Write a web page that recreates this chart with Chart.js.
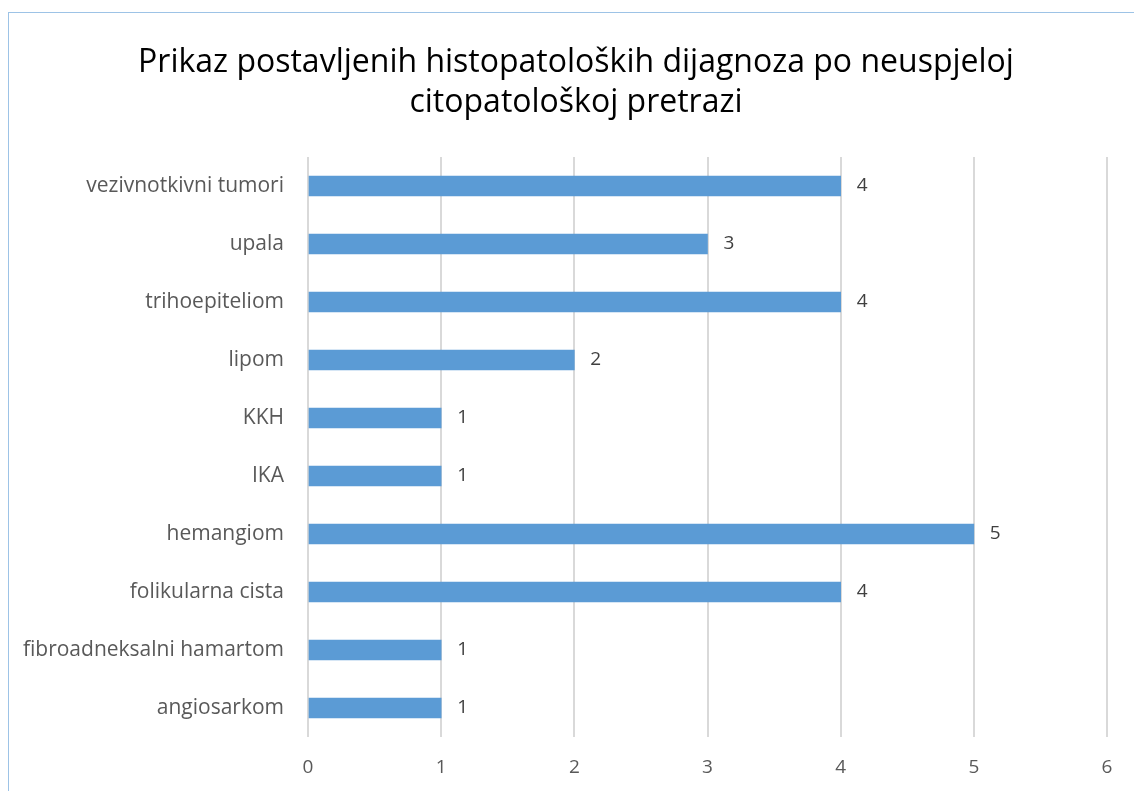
<!DOCTYPE html>
<html>
<head>
<meta charset="utf-8">
<script src="https://cdn.jsdelivr.net/npm/chart.js@4.4.0/dist/chart.umd.min.js"></script>
<style>
  html, body { margin: 0; padding: 0; background: #fff; }
  #wrap { position: relative; width: 1134px; height: 791px; overflow: hidden; }
  #frame { position: absolute; left: 8px; top: 12px; width: 1200px; height: 900px;
           border-left: 1px solid #9dc3e6; border-top: 1px solid #9dc3e6; }
  canvas { position: absolute; left: 0; top: 0; }
</style>
</head>
<body>
<div id="wrap">
  <div id="frame"></div>
  <canvas id="Chart" width="1134" height="791"></canvas>
</div>
<script>
// data, top to bottom as in the picture
const categories = ['vezivnotkivni tumori', 'upala', 'trihoepiteliom', 'lipom', 'KKH', 'IKA',
                    'hemangiom', 'folikularna cista', 'fibroadneksalni hamartom', 'angiosarkom'];
const counts = [4, 3, 4, 2, 1, 1, 5, 4, 1, 1];
const xTicks = [0, 1, 2, 3, 4, 5, 6];
const titleLines = ['Prikaz postavljenih histopatoloških dijagnoza po neuspjeloj', 'citopatološkoj pretrazi'];

const FONT = '"Open Sans", Lato, sans-serif';

// title drawn by hand so it can sit a bit right of the canvas centre, like the original
const titleDraw = {
  id: 'titleDraw',
  afterDraw(chart) {
    const ctx = chart.ctx;
    ctx.save();
    ctx.font = '32px ' + FONT;
    ctx.fillStyle = '#000';
    ctx.textAlign = 'center';
    ctx.textBaseline = 'middle';
    titleLines.forEach((line, i) => ctx.fillText(line, 576, 63 + i * 40));
    ctx.restore();
  }
};

// value labels at the end of each bar
const barLabels = {
  id: 'barLabels',
  afterDatasetsDraw(chart) {
    const ctx = chart.ctx;
    const meta = chart.getDatasetMeta(0);
    ctx.save();
    ctx.font = '19px ' + FONT;
    ctx.fillStyle = '#404040';
    ctx.textAlign = 'left';
    ctx.textBaseline = 'middle';
    meta.data.forEach((bar, i) => {
      ctx.fillText(String(counts[i]), bar.x + 16, bar.y);
    });
    ctx.restore();
  }
};

var ctx = document.getElementById('Chart').getContext('2d');
var myChart = new Chart(ctx, {
  type: 'bar',
  data: {
    labels: categories,
    datasets: [{
      data: counts,
      backgroundColor: '#5b9bd5',
      barThickness: 20
    }]
  },
  options: {
    indexAxis: 'y',
    responsive: false,
    animation: false,
    layout: { padding: { left: 0, right: 27, top: 157, bottom: 0 } },
    plugins: {
      legend: { display: false },
      tooltip: { enabled: false },
      title: { display: false }
    },
    scales: {
      x: {
        min: 0,
        max: 6,
        afterBuildTicks(scale) { scale.ticks = xTicks.map(v => ({ value: v })); },
        afterFit(scale) { scale.height = 54; },
        border: { display: false },
        grid: { color: '#d9d9d9', lineWidth: 2, drawTicks: false },
        ticks: { color: '#595959', font: { family: FONT, size: 19 }, padding: 19 }
      },
      y: {
        afterFit(scale) { scale.width = 308; },
        border: { display: false },
        grid: { display: false, drawTicks: false },
        ticks: { color: '#595959', font: { family: FONT, size: 21 }, padding: 24 }
      }
    }
  },
  plugins: [barLabels, titleDraw]
});
</script>
</body>
</html>
